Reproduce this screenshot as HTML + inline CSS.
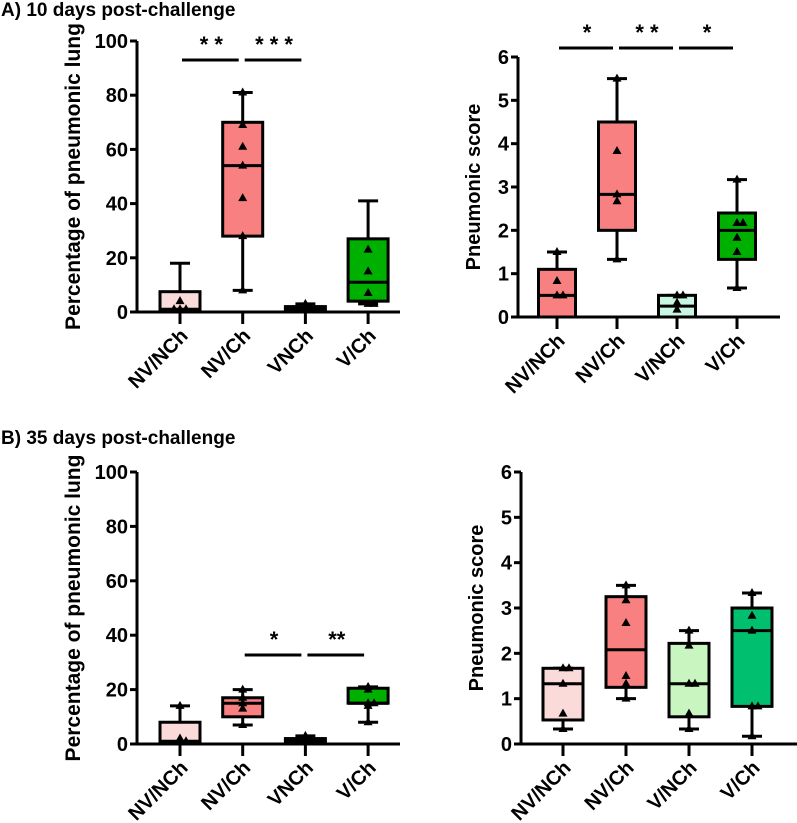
<!DOCTYPE html>
<html><head><meta charset="utf-8"><style>
html,body{margin:0;padding:0;background:#fff}
svg{display:block}
text{font-family:"Liberation Sans",sans-serif;font-weight:bold;fill:#000}
</style></head><body>
<svg id="fig" width="797" height="823" viewBox="0 0 797 823" xmlns="http://www.w3.org/2000/svg">
<text x="1" y="16" font-size="19">A) 10 days post-challenge</text>
<text x="1" y="444" font-size="19">B) 35 days post-challenge</text>
</svg>
<script>
const catsA1 = ["NV/NCh","NV/Ch","VNCh","V/Ch"];
const catsA2 = ["NV/NCh","NV/Ch","V/NCh","V/Ch"];
// [whiskerLow, q1, median, q3, whiskerHigh]
const statsA1 = [[0,0.5,1,7.5,18],[8,28,54,70,81],[0,0.5,1,2,3],[3,4,11,27,41]];
const pointsA1 = [[4,1,1,1],[61,42,54,28,69,81,8],[1,1,2,3],[23,15,7,3,3]];
const statsA2 = [[0,0,0.5,1.1,1.5],[1.33,2,2.83,4.5,5.5],[0,0,0.25,0.5,0.5],[0.67,1.33,2,2.4,3.17]];
const pointsA2 = [[0.83,0.5,0.5,1.5],[3.83,2.67,2.83,1.33,5.5],[0.5,0.5,0.33,0.17],[2.17,2.17,1.83,1.5,3.17,0.67]];
const statsB1 = [[0,0.5,1,8,14],[7,10,15,17,20],[0,0.5,1,2,3],[8,15,15,20.5,21]];
const pointsB1 = [[1,2,1,14],[13,15,17,20,7],[1,1,2,3],[15,15,21,20,14,8]];
const statsB2 = [[0.33,0.53,1.33,1.67,1.67],[1,1.25,2.08,3.25,3.5],[0.33,0.6,1.33,2.22,2.5],[0.17,0.83,2.5,3,3.33]];
const pointsB2 = [[1.67,1.67,1.33,0.67,0.33],[3.17,2.67,1.5,1.33,3.5,1],[2.5,2.17,1.33,1.33,0.67,0.33],[3.33,2.83,2.5,0.83,0.83,0.17]];
const ticksPct = [0,20,40,60,80,100];
const ticksScore = [0,1,2,3,4,5,6];
const colorsA1 = ["#fbdada","#f88080","#fbdada","#00b000"];
const colorsA2 = ["#f88080","#f88080","#c9f5e3","#00b000"];
const colorsB1 = ["#fbdada","#f88080","#fbdada","#00b000"];
const colorsB2 = ["#fbdada","#f88080","#c8f5c0","#00c070"];
const sigA1 = [[0,1,"* *"],[1,2,"* * *"]];
const sigA2 = [[0,1,"*"],[1,2,"* *"],[2,3,"*"]];
const sigB1 = [[1,2,"*"],[2,3,"**"]];

const NS="http://www.w3.org/2000/svg";
const svg=document.getElementById('fig');
function mk(tag,attrs,parent){const e=document.createElementNS(NS,tag);for(const k in attrs)e.setAttribute(k,attrs[k]);(parent||svg).appendChild(e);return e;}

function panel(p){
  const g=mk('g',{});
  
  
  const y=v=>p.y0+(p.y1-p.y0)*(v-p.min)/(p.max-p.min);
  const x=i=>p.cx0+i*p.step;
  const ax=mk('line',{x1:p.ax,x2:p.ax,y1:y(p.max),y2:p.y0,stroke:'#000','stroke-width':3},g);
  
  p.ticks.forEach(t=>{
    mk('line',{x1:p.ax-7,x2:p.ax,y1:y(t),y2:y(t),stroke:'#000','stroke-width':3},g);
    const tl=mk('text',{x:p.ax-9,y:y(t)+7,'font-size':20,'text-anchor':'end'},g);
    tl.textContent=t;
    
  });
  const xa=mk('line',{x1:p.ax-7,x2:p.xend,y1:p.y0,y2:p.y0,stroke:'#000','stroke-width':3},g);
  
  const yt=mk('text',{x:0,y:0,'font-size':p.tfs,'text-anchor':'middle',transform:`translate(${p.titleX},${(y(p.max)+p.y0)/2}) rotate(-90)`},g);
  yt.textContent=p.ytitle;
  
  p.cats.forEach((c,i)=>{
    const cx=x(i);
    mk('line',{x1:cx,x2:cx,y1:p.y0,y2:p.y0+12,stroke:'#000','stroke-width':3},g);
    const lb=mk('text',{x:0,y:0,'font-size':20,'text-anchor':'end',transform:`translate(${cx+9},${p.y0+25}) rotate(-45)`},g);
    lb.textContent=c;
    
    const s=p.stats[i],hw=p.bw/2;
    const wk=mk('line',{x1:cx,x2:cx,y1:y(s[0]),y2:y(s[4]),stroke:'#000','stroke-width':3},g);
    
    mk('line',{x1:cx-10,x2:cx+10,y1:y(s[0]),y2:y(s[0]),stroke:'#000','stroke-width':3},g);
    mk('line',{x1:cx-10,x2:cx+10,y1:y(s[4]),y2:y(s[4]),stroke:'#000','stroke-width':3},g);
    const bx=mk('rect',{x:cx-hw,y:y(s[3]),width:p.bw,height:Math.max(1,y(s[1])-y(s[3])),fill:p.colors[i],stroke:'#000','stroke-width':3},g);
    
    const md=mk('line',{x1:cx-hw,x2:cx+hw,y1:y(s[2]),y2:y(s[2]),stroke:'#000','stroke-width':3},g);
    
    const pts=p.points[i];
    pts.forEach((v,j)=>{
      const dup=pts.slice(0,j).filter(u=>u===v).length;
      const px=cx+(dup%2?1:-1)*(dup?5:0)*Math.ceil(dup/2)*1.2;
      const py=y(v);
      const tr=mk('polygon',{points:`${px},${py-5} ${px-4.5},${py+3} ${px+4.5},${py+3}`,fill:'#000'},g);
      
    });
  });
  (p.sig||[]).forEach(sg=>{
    const a=x(sg[0]),b=x(sg[1]);
    const ln=mk('line',{x1:a+2,x2:b-4,y1:p.sigY,y2:p.sigY,stroke:'#000','stroke-width':3},g);
    
    const st=mk('text',{x:(a+b)/2,y:p.sigY-8,'font-size':22,'text-anchor':'middle'},g);
    st.textContent=sg[2];
    
  });
}
panel({name:'chart-a-percentage',cats:catsA1,stats:statsA1,points:pointsA1,colors:colorsA1,ticks:ticksPct,min:0,max:100,y0:312,y1:41,ax:137,xend:400,cx0:180,step:62.7,bw:40,titleX:80,tfs:21,ytitle:'Percentage of pneumonic lung',sig:sigA1,sigY:60});
panel({name:'chart-a-score',cats:catsA2,stats:statsA2,points:pointsA2,colors:colorsA2,ticks:ticksScore,min:0,max:6,y0:317,y1:57,ax:518,xend:780,cx0:557,step:60,bw:37,titleX:480,tfs:20,ytitle:'Pneumonic score',sig:sigA2,sigY:48});
panel({name:'chart-b-percentage',cats:catsA1,stats:statsB1,points:pointsB1,colors:colorsB1,ticks:ticksPct,min:0,max:100,y0:744,y1:472,ax:137,xend:400,cx0:180,step:62.7,bw:40,titleX:80,tfs:21,ytitle:'Percentage of pneumonic lung',sig:sigB1,sigY:655});
panel({name:'chart-b-score',cats:catsA2,stats:statsB2,points:pointsB2,colors:colorsB2,ticks:ticksScore,min:0,max:6,y0:744,y1:472,ax:521,xend:797,cx0:563,step:63,bw:40,titleX:483,tfs:20,ytitle:'Pneumonic score'});
</script>
</body></html>
